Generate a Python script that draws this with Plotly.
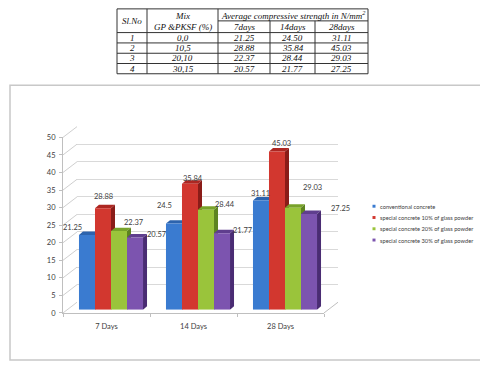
import plotly.graph_objects as go

# ---------------- data ----------------
categories = ["7 Days", "14 Days", "28 Days"]
series_names = [
    "conventional concrete",
    "special concrete 10% of glass powder",
    "special concrete 20% of glass powder",
    "special concrete 30% of glass powder",
]
conventional = [21.25, 24.50, 31.11]
glass_10 = [28.88, 35.84, 45.03]
glass_20 = [22.37, 28.44, 29.03]
glass_30 = [20.57, 21.77, 27.25]
y_ticks = [0, 5, 10, 15, 20, 25, 30, 35, 40, 45, 50]

table_sl_no = ["1", "2", "3", "4"]
table_mix = ["0,0", "10,5", "20,10", "30,15"]
table_ages = ["7days", "14days", "28days"]

series_values = [conventional, glass_10, glass_20, glass_30]

# ---------------- styling / geometry ----------------
W, H = 480, 368
FX0, FX1 = 63.0, 324.0          # front plane x extent (px)
FY0, FY50 = 316.7, 136.7        # front plane y of 0 and 50 (px)
BAR_DX, BAR_DY = 4.5, 3.4       # bar plane offset from front
WALL_DX, WALL_DY = 14.0, 11.0   # back wall offset from front
DEPTH_X, DEPTH_Y = 4.0, 3.5     # visible bar depth

face_colors = ["#3a7bd0", "#d2372f", "#9ac43b", "#7c54af"]
top_colors = ["#2c63ad", "#ad2722", "#78a22a", "#5f3e8e"]
side_colors = ["#20508e", "#8a1c18", "#5d8420", "#4a2c73"]
label_shift = [
    [(-14, 7.5), (-9, 18.4), (0, 7)],
    [(0, 11.6), (2.7, 5.3), (4.7, 7.9)],
    [(15, 8.8), (19.3, 4.9), (19, 20.5)],
    [(22.3, 2.6), (20.7, 2.2), (31, 5.2)],
]
CHART_FONT = "Lato"
TXT = "#404040"
GRID = "#d9d9d9"
AXIS = "#bfbfbf"


def px_x(x):
    return x / W


def px_y(y):
    return 1 - y / H


BARGAP = 0.264
n_series = len(series_values)
bw = (1 - BARGAP) / n_series
ppu_x = (FX1 - FX0) / len(categories)
ppu_y = (FY0 - FY50) / 50.0
ddx = DEPTH_X / ppu_x
ddy = DEPTH_Y / ppu_y

fig = go.Figure()
idx = list(range(len(categories)))

# invisible anchors for back-wall and front-axis subplots
fig.add_trace(go.Scatter(x=idx, y=[0, 0, 0], xaxis="x", yaxis="y", mode="markers",
                         marker=dict(opacity=0), hoverinfo="skip", showlegend=False))
fig.add_trace(go.Scatter(x=categories, y=[0, 0, 0], xaxis="x3", yaxis="y3", mode="markers",
                         marker=dict(opacity=0), hoverinfo="skip", showlegend=False))

shapes = []
annotations = []

for k, (name, vals) in enumerate(zip(series_names, series_values)):
    fig.add_trace(go.Bar(
        x=idx, y=vals, xaxis="x2", yaxis="y2", name=name,
        marker=dict(color=face_colors[k], line=dict(width=0)),
        showlegend=False,
    ))
    for i, v in enumerate(vals):
        cx = i + (k - (n_series - 1) / 2) * bw
        xl, xr = cx - bw / 2, cx + bw / 2
        top = f"M {xl},{v} L {xr},{v} L {xr+ddx},{v+ddy} L {xl+ddx},{v+ddy} Z"
        side = f"M {xr},0 L {xr},{v} L {xr+ddx},{v+ddy} L {xr+ddx},{ddy} Z"
        shapes.append(dict(type="path", path=top, xref="x2", yref="y2", layer="below",
                           fillcolor=top_colors[k], line=dict(width=0)))
        shapes.append(dict(type="path", path=side, xref="x2", yref="y2", layer="below",
                           fillcolor=side_colors[k], line=dict(width=0)))
        sx, sy = label_shift[k][i]
        annotations.append(dict(x=cx, y=v, xref="x2", yref="y2", text=f"{v:g}",
                                showarrow=False, xshift=sx, yshift=sy,
                                font=dict(family=CHART_FONT, size=7.5, color=TXT)))

# left wall slanted lines and floor right edge
for t in y_ticks:
    shapes.append(dict(type="line", xref="paper", yref="paper",
                       x0=px_x(FX0), x1=px_x(FX0 + WALL_DX),
                       y0=px_y(FY0 - t * ppu_y), y1=px_y(FY0 - WALL_DY - t * ppu_y),
                       line=dict(color="#cfcfcf", width=1), layer="below"))
shapes.append(dict(type="line", xref="paper", yref="paper",
                   x0=px_x(FX1), x1=px_x(FX1 + WALL_DX), y0=px_y(FY0), y1=px_y(FY0 - WALL_DY),
                   line=dict(color=AXIS, width=1), layer="below"))

# outer frame
shapes.append(dict(type="rect", xref="paper", yref="paper",
                   x0=px_x(10), x1=px_x(482), y0=px_y(83.3), y1=px_y(365),
                   line=dict(color="#c8c8c8", width=1.5), layer="below"))

# legend (manual)
for k, name in enumerate(series_names):
    yc = 207.3 + k * 11.55
    shapes.append(dict(type="rect", xref="paper", yref="paper",
                       x0=px_x(372.5), x1=px_x(375.5), y0=px_y(yc + 1.5), y1=px_y(yc - 1.5),
                       fillcolor=face_colors[k], line=dict(width=0)))
    annotations.append(dict(x=px_x(377.5), y=px_y(yc), xref="paper", yref="paper",
                            xanchor="left", yanchor="middle", text=name, showarrow=False,
                            font=dict(family=CHART_FONT, size=5.7, color=TXT)))

# ---------------- table ----------------
col_edges = [117, 147, 218, 270, 315, 368]
row_edges = [5, 17.3, 29.3, 39.9, 50.5, 61.0, 71.5]
TLINE = dict(color="#333333", width=1)
TFONT = dict(family="Liberation Serif", size=9, color="#111111", style="italic")

# horizontals
shapes.append(dict(type="line", xref="paper", yref="paper", x0=px_x(col_edges[0]), x1=px_x(col_edges[-1]),
                   y0=px_y(row_edges[0]), y1=px_y(row_edges[0]), line=TLINE))
shapes.append(dict(type="line", xref="paper", yref="paper", x0=px_x(col_edges[2]), x1=px_x(col_edges[-1]),
                   y0=px_y(row_edges[1]), y1=px_y(row_edges[1]), line=TLINE))
for r in row_edges[2:]:
    shapes.append(dict(type="line", xref="paper", yref="paper", x0=px_x(col_edges[0]), x1=px_x(col_edges[-1]),
                       y0=px_y(r), y1=px_y(r), line=TLINE))
# verticals
for j, c in enumerate(col_edges):
    ytop = row_edges[1] if j in (3, 4) else row_edges[0]
    shapes.append(dict(type="line", xref="paper", yref="paper", x0=px_x(c), x1=px_x(c),
                       y0=px_y(ytop), y1=px_y(row_edges[-1]), line=TLINE))


def tcell(x, y, text):
    annotations.append(dict(x=px_x(x), y=px_y(y), xref="paper", yref="paper", text=text,
                            showarrow=False, xanchor="center", yanchor="middle", font=TFONT))


col_mid = [(col_edges[j] + col_edges[j + 1]) / 2 for j in range(len(col_edges) - 1)]
tcell(col_mid[0], 17.5, "Sl.No")
tcell(col_mid[1], 11.8, "Mix")
tcell(col_mid[1], 23.6, "GP &amp;PKSF (%)")
tcell((col_edges[2] + col_edges[-1]) / 2 + 0.5, 11.3, "Average compressive strength in N/mm<sup>2</sup>")
for j, a in enumerate(table_ages):
    tcell(col_mid[2 + j], 23.6, a)
for r in range(len(table_sl_no)):
    yc = (row_edges[2 + r] + row_edges[3 + r]) / 2
    tcell(col_mid[0], yc, table_sl_no[r])
    tcell(col_mid[1], yc, table_mix[r])
    for j in range(len(categories)):
        tcell(col_mid[2 + j], yc, f"{series_values[r][j]:.2f}")

# ---------------- layout ----------------
tickfont = dict(family=CHART_FONT, size=7.5, color=TXT)
fig.update_layout(
    width=W, height=H, margin=dict(l=0, r=0, t=0, b=0),
    paper_bgcolor="white", plot_bgcolor="rgba(0,0,0,0)",
    barmode="group", bargap=BARGAP, bargroupgap=0,
    showlegend=False,
    xaxis=dict(domain=[px_x(FX0 + WALL_DX), px_x(FX1 + WALL_DX)], range=[-0.5, 2.5],
               visible=False, anchor="y"),
    yaxis=dict(domain=[px_y(FY0 - WALL_DY), px_y(FY50 - WALL_DY)], range=[0, 50],
               tickvals=y_ticks, showgrid=True, gridcolor=GRID, gridwidth=1,
               showticklabels=False, zeroline=False, showline=False, ticks="", anchor="x"),
    xaxis2=dict(domain=[px_x(FX0 + BAR_DX), px_x(FX1 + BAR_DX)], range=[-0.5, 2.5],
                visible=False, anchor="y2"),
    yaxis2=dict(domain=[px_y(FY0 - BAR_DY), px_y(FY50 - BAR_DY)], range=[0, 50],
                visible=False, anchor="x2"),
    xaxis3=dict(domain=[px_x(FX0), px_x(FX1)], type="category", categoryorder="array",
                categoryarray=categories, range=[-0.5, 2.5], showline=True, linecolor=AXIS,
                ticks="outside", tickson="boundaries", ticklen=3, tickcolor=AXIS,
                ticklabelstandoff=6,
                tickfont=tickfont, showgrid=False, anchor="y3"),
    yaxis3=dict(domain=[px_y(FY0), px_y(FY50)], range=[0, 50], tickvals=y_ticks,
                showline=True, linecolor=AXIS, ticks="outside", ticklen=3, tickcolor=AXIS,
                ticklabelstandoff=2,
                tickfont=tickfont, showgrid=False, zeroline=False, anchor="x3"),
    shapes=shapes,
    annotations=annotations,
)

fig.write_html("out.html")
